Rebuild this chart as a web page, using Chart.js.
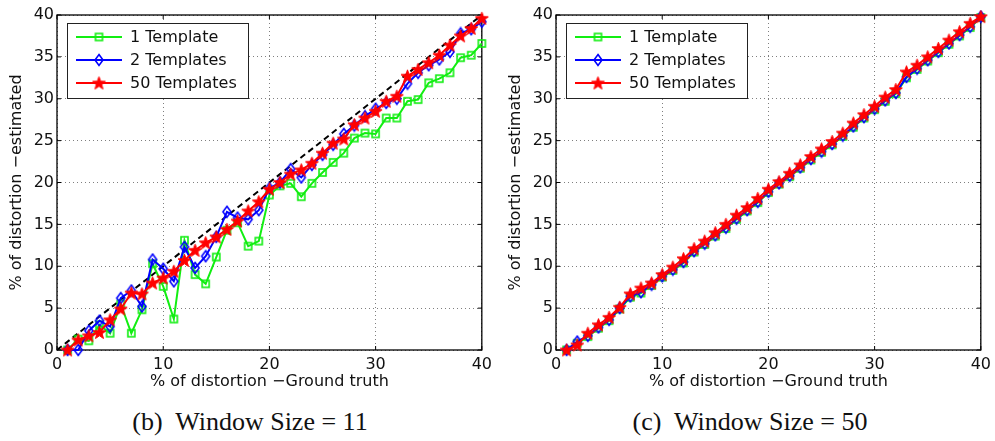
<!DOCTYPE html>
<html><head><meta charset="utf-8">
<script src="https://cdn.jsdelivr.net/npm/chart.js@4"></script>
<style>
html,body{margin:0;padding:0;background:#fff;}
#wrap{position:relative;width:995px;height:441px;overflow:hidden;background:#fff;}
canvas{position:absolute;top:0;}
.cap{position:absolute;top:407px;font-family:"Liberation Serif","Times New Roman",serif;font-size:26px;color:#111;width:400px;text-align:center;white-space:pre;}
</style></head><body>
<div id="wrap">
<canvas id="c1" width="497" height="400" style="left:0"></canvas>
<canvas id="c2" width="497" height="400" style="left:499px"></canvas>
<div class="cap" style="left:50px">(b)  Window Size = 11</div>
<div class="cap" style="left:550px">(c)  Window Size = 50</div>
</div>
<script>
// ---- data ----
const distortion = [1,2,3,4,5,6,7,8,9,10,11,12,13,14,15,16,17,18,19,20,21,22,23,24,25,26,27,28,29,30,31,32,33,34,35,36,37,38,39,40];
const xTickLabels = [0,10,20,30,40];
const yTickLabels = [0,5,10,15,20,25,30,35,40];
const idealLine = [0,40];
const seriesNames = ["1 Template","2 Templates","50 Templates"];

// Window size = 11
const w11_one  = [0,1.3,1.1,3.0,2.0,5.5,2.0,4.8,10.3,7.6,3.7,13.1,9.0,7.9,11.1,14.3,15.2,12.4,13.0,18.5,19.6,19.9,18.3,19.9,21.2,22.4,23.5,25.3,25.9,25.8,27.7,27.7,29.7,29.9,31.9,32.4,33.1,34.9,35.2,36.6];
const w11_two  = [0,0,2.3,3.5,2.8,6.2,7.1,5.2,10.8,9.7,8.2,12.3,9.8,11.2,13.5,16.5,15.8,15.6,16.7,19.3,20.0,21.6,20.6,22.1,23.3,24.5,25.8,26.8,27.9,28.8,29.5,30.0,31.8,33.1,34.0,34.7,35.6,37.8,38.3,39.2];
const w11_fifty= [0,1.2,1.7,2.1,3.6,4.9,6.8,6.7,8.0,8.6,9.4,10.7,11.9,12.8,13.5,14.4,15.4,16.6,17.7,19.2,20.0,21.0,21.5,22.3,23.5,24.7,25.2,26.9,27.7,28.5,29.7,30.3,32.7,33.5,34.3,35.2,36.4,37.5,38.4,39.6];

// Window size = 50
const w50_one  = [0,0.8,1.6,2.6,3.5,4.9,6.3,6.8,7.7,8.7,9.5,10.4,11.7,12.6,13.6,14.5,15.6,16.6,17.6,18.8,19.8,20.7,21.7,22.7,23.6,24.5,25.5,26.6,27.7,28.7,29.7,30.6,32.5,33.5,34.5,35.5,36.5,37.5,38.5,39.7];
const w50_two  = [0,1.0,1.7,2.7,3.6,5.0,6.4,6.9,7.8,8.8,9.6,10.5,11.8,12.7,13.7,14.6,15.7,16.7,17.7,18.9,19.9,20.8,21.8,22.8,23.7,24.6,25.6,26.7,27.8,28.8,29.8,30.7,32.6,33.6,34.6,35.6,36.6,37.6,38.6,39.8];
const w50_fifty= [0,0.6,2.0,3.0,3.9,5.1,6.7,7.4,8.0,9.0,9.9,10.9,12.1,13.0,14.0,15.0,16.1,17.0,18.1,19.2,20.1,21.1,22.1,23.1,24.0,24.9,25.9,27.1,28.1,29.1,30.2,31.1,33.2,34.0,35.0,36.0,37.0,38.0,39.0,39.8];

// ---- styles ----
const GREEN='#11ee11', BLUE='#0000ff', RED='#ff0000';
function marker(kind,color){
  const c=document.createElement('canvas');
  const x=c.getContext('2d');
  if(kind==='square'){
    c.width=11;c.height=11;
    x.strokeStyle=color;x.lineWidth=1.6;x.strokeRect(2,2,7,7);
  }else if(kind==='diamond'){
    c.width=12;c.height=14;
    x.strokeStyle=color;x.lineWidth=1.6;
    x.beginPath();x.moveTo(6,1.5);x.lineTo(10,7);x.lineTo(6,12.5);x.lineTo(2,7);x.closePath();x.stroke();
  }else{
    c.width=15;c.height=15;
    x.fillStyle=color;x.strokeStyle=color;x.lineWidth=1;
    x.beginPath();
    for(let i=0;i<10;i++){
      const r=i%2===0?6.8:2.8;
      const a=-Math.PI/2+i*Math.PI/5;
      const px=7.5+r*Math.cos(a), py=8+r*Math.sin(a);
      i===0?x.moveTo(px,py):x.lineTo(px,py);
    }
    x.closePath();x.fill();x.stroke();
  }
  return c;
}
const mSquare=marker('square',GREEN), mDiamond=marker('diamond',BLUE), mStar=marker('star',RED);

const framePlugin={
  id:'frame',
  beforeDatasetsDraw(chart){
    const {ctx,chartArea:a,scales}=chart;
    ctx.save();
    ctx.strokeStyle='#000';ctx.lineWidth=1.3;
    ctx.strokeRect(a.left,a.top,a.right-a.left,a.bottom-a.top);
    ctx.lineWidth=1;
    ctx.beginPath();
    scales.x.ticks.forEach(t=>{const p=scales.x.getPixelForValue(t.value);
      ctx.moveTo(p,a.bottom);ctx.lineTo(p,a.bottom-4);ctx.moveTo(p,a.top);ctx.lineTo(p,a.top+4);});
    scales.y.ticks.forEach(t=>{const p=scales.y.getPixelForValue(t.value);
      ctx.moveTo(a.left,p);ctx.lineTo(a.left+4,p);ctx.moveTo(a.right,p);ctx.lineTo(a.right-4,p);});
    ctx.stroke();
    ctx.restore();
  }
};
const legendPlugin={
  id:'boxLegend',
  afterDatasetsDraw(chart){
    const {ctx,chartArea:a}=chart;
    const items=chart.data.datasets.filter(d=>d.label);
    const bx=Math.round(a.left+10), by=Math.round(a.top+8), bw=181, bh=75;
    ctx.save();
    ctx.fillStyle='#fff';ctx.fillRect(bx,by,bw,bh);
    ctx.strokeStyle='#222';ctx.lineWidth=1;ctx.strokeRect(bx+0.5,by+0.5,bw,bh);
    items.forEach((d,i)=>{
      const y=by+14+i*23;
      ctx.strokeStyle=d.borderColor;ctx.lineWidth=2;
      ctx.beginPath();ctx.moveTo(bx+9,y);ctx.lineTo(bx+55,y);ctx.stroke();
      const img=d.pointStyle;
      ctx.drawImage(img,bx+32-img.width/2,y-img.height/2);
      ctx.fillStyle='#111';ctx.font='16px "DejaVu Sans"';ctx.textBaseline='middle';ctx.textAlign='left';
      ctx.fillText(d.label,bx+63,y+1);
    });
    ctx.restore();
  }
};

Chart.defaults.font.family='"DejaVu Sans", sans-serif';
Chart.defaults.font.size=16;
Chart.defaults.color='#111';

function pts(arr){return distortion.map((x,i)=>({x:x,y:arr[i]}));}
function makeChart(id,one,two,fifty,withIdeal){
  const ds=[
    {label:seriesNames[0],data:pts(one),borderColor:GREEN,borderWidth:2,pointStyle:mSquare,pointRadius:5,order:3,clip:false},
    {label:seriesNames[1],data:pts(two),borderColor:BLUE,borderWidth:2,pointStyle:mDiamond,pointRadius:5,order:2,clip:false},
    {label:seriesNames[2],data:pts(fifty),borderColor:RED,borderWidth:2,pointStyle:mStar,pointRadius:6,order:1,clip:false}
  ];
  if(withIdeal){
    ds.push({label:'',data:idealLine.map(v=>({x:v,y:v})),borderColor:'#000',borderWidth:2,borderDash:[6,4],pointRadius:0,order:4});
  }
  return new Chart(document.getElementById(id),{
    type:'line',
    data:{datasets:ds},
    options:{
      responsive:false,animation:false,
      layout:{padding:{top:15,right:14,left:0,bottom:0}},
      plugins:{legend:{display:false},tooltip:{enabled:false}},
      elements:{line:{tension:0}},
      scales:{
        x:{type:'linear',min:0,max:40,
          afterBuildTicks:s=>{s.ticks=xTickLabels.map(v=>({value:v}));},
          afterFit:s=>{s.height=50;},
          ticks:{padding:5,font:{size:16},color:'#111',maxRotation:0},
          grid:{color:'rgba(0,0,0,0.5)',lineWidth:1,drawTicks:false},
          border:{display:false,dash:[1,3]},
          title:{display:true,text:'% of distortion \u2212Ground truth',font:{size:16},color:'#111',padding:{top:0,bottom:9}}
        },
        y:{type:'linear',min:0,max:40,
          afterBuildTicks:s=>{s.ticks=yTickLabels.map(v=>({value:v}));},
          afterFit:s=>{s.width=57;},
          ticks:{padding:3,font:{size:16},color:'#111'},
          grid:{color:'rgba(0,0,0,0.5)',lineWidth:1,drawTicks:false},
          border:{display:false,dash:[1,3]},
          title:{display:true,text:'% of distortion \u2212estimated',font:{size:16},color:'#111',padding:{top:7,bottom:0}}
        }
      }
    },
    plugins:[framePlugin,legendPlugin]
  });
}
makeChart('c1',w11_one,w11_two,w11_fifty,true);
makeChart('c2',w50_one,w50_two,w50_fifty,false);
</script>
</body></html>
